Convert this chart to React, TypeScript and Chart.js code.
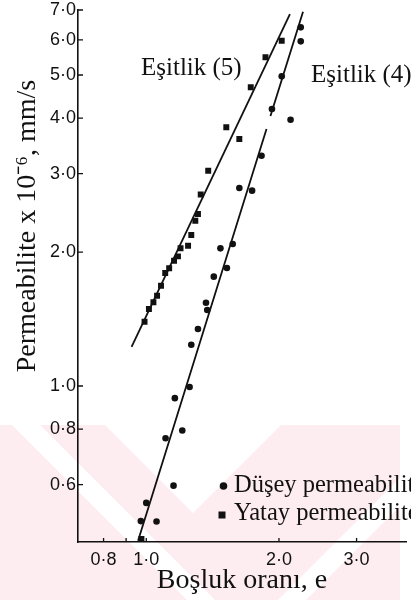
import React, { useEffect, useRef } from 'react';
import { Chart, registerables } from 'chart.js';

Chart.register(...registerables);

// Yatay permeabilite (squares)
const yatayE = [2.029, 1.864, 1.726, 1.519, 1.626, 1.382, 1.329, 1.310, 1.292, 1.265, 1.244, 1.196, 1.180, 1.156, 1.127, 1.104, 1.080, 1.058, 1.038, 1.014, 0.991, 0.975];
const yatayK = [5.970, 5.480, 4.691, 3.814, 3.590, 3.046, 2.694, 2.435, 2.352, 2.184, 2.067, 2.039, 1.956, 1.912, 1.839, 1.795, 1.680, 1.596, 1.542, 1.489, 1.395, 0.453];

// Düşey permeabilite (circles)
const duseyE = [2.241, 2.241, 2.029, 1.928, 2.125, 1.826, 1.626, 1.738, 1.571, 1.473, 1.524, 1.423, 1.366, 1.375, 1.310, 1.265, 1.254, 1.161, 1.207, 1.106, 1.153, 1.000, 0.972, 1.055];
const duseyK = [6.399, 5.951, 4.966, 4.194, 3.967, 3.293, 2.786, 2.748, 2.085, 2.039, 1.842, 1.761, 1.539, 1.482, 1.343, 1.238, 0.995, 0.939, 0.794, 0.763, 0.597, 0.546, 0.497, 0.496];

// Fitted lines
const esitlik5E = [0.926, 2.118];
const esitlik5K = [1.224, 6.855];
const esitlik4E: (number | null)[] = [0.958, 1.874, null, 1.913, 2.268];
const esitlik4K: (number | null)[] = [0.449, 3.781, null, 4.045, 6.937];

// Axes
const xMin = 0.71;
const xMax = 3.9;
const yMin = 0.446;
const yMax = 7.0;
const xTickValues = [0.8, 1.0, 2.0, 3.0];
const xMinorTickValues = [0.9];
const yTickValues = [0.6, 0.8, 1.0, 2.0, 3.0, 4.0, 5.0, 6.0, 7.0];

const xAxisTitle = 'Boşluk oranı, e';
const yAxisTitle = 'Permeabilite x 10⁻⁶, mm/s';
const legendLabels = ['Düşey permeabilite', 'Yatay permeabilite'];
const equationLabels = ['Eşitlik (5)', 'Eşitlik (4)'];

const INK = '#111111';
const SERIF = '"Liberation Serif", "Times New Roman", serif';
const SANS = '"Liberation Sans", Arial, sans-serif';

const toPoints = (xs: (number | null)[], ys: (number | null)[]) =>
  xs.map((x, i) => (x === null || ys[i] === null ? { x: NaN, y: NaN } : { x: x as number, y: ys[i] as number }));

const fmt = (v: number) => v.toFixed(1).replace('.', '·');

const watermarkPlugin = {
  id: 'watermark',
  beforeDraw(chart: any) {
    const ctx = chart.ctx;
    ctx.save();
    ctx.fillStyle = 'rgb(253,236,240)';
    ctx.fillRect(0, 425, 400, 175);
    ctx.fillStyle = '#ffffff';
    const poly = (pts: number[][]) => {
      ctx.beginPath();
      ctx.moveTo(pts[0][0], pts[0][1]);
      for (let i = 1; i < pts.length; i++) ctx.lineTo(pts[i][0], pts[i][1]);
      ctx.closePath();
      ctx.fill();
    };
    poly([[105, 425], [193, 513], [281, 425]]);
    poly([[12, 425], [40, 425], [215, 600], [187, 600]]);
    poly([[453, 425], [481, 425], [306, 600], [278, 600]]);
    ctx.restore();
  },
};

const decorPlugin = {
  id: 'decor',
  afterDraw(chart: any) {
    const ctx = chart.ctx;
    const xs = chart.scales.x;
    const ys = chart.scales.y;
    const area = chart.chartArea;
    ctx.save();
    // inward ticks
    ctx.strokeStyle = INK;
    ctx.lineWidth = 1.3;
    ctx.beginPath();
    yTickValues.forEach((v) => {
      const p = ys.getPixelForValue(v);
      ctx.moveTo(area.left, p);
      ctx.lineTo(area.left + 5, p);
    });
    [...xTickValues, ...xMinorTickValues].forEach((v) => {
      const p = xs.getPixelForValue(v);
      ctx.moveTo(p, area.bottom);
      ctx.lineTo(p, area.bottom - 4);
    });
    ctx.stroke();

    ctx.fillStyle = INK;
    // equation labels
    ctx.font = `25px ${SERIF}`;
    ctx.textAlign = 'left';
    ctx.textBaseline = 'alphabetic';
    ctx.fillText(equationLabels[0], 141, 75);
    ctx.fillText(equationLabels[1], 311, 82);

    // legend
    ctx.font = `24.5px ${SERIF}`;
    ctx.beginPath();
    ctx.arc(223.5, 486, 3.8, 0, Math.PI * 2);
    ctx.fill();
    ctx.fillRect(218.5, 511.5, 7, 7);
    ctx.fillText(legendLabels[0], 234, 492);
    ctx.fillText(legendLabels[1], 234, 520);

    // axis titles
    ctx.font = `28px ${SERIF}`;
    ctx.textAlign = 'center';
    ctx.fillText(xAxisTitle, 242, 588);
    ctx.save();
    ctx.translate(35, 226);
    ctx.rotate(-Math.PI / 2);
    ctx.fillText(yAxisTitle, 0, 0);
    ctx.restore();
    ctx.restore();
  },
};

export default function App() {
  const canvasRef = useRef<HTMLCanvasElement | null>(null);

  useEffect(() => {
    if (!canvasRef.current) return;
    const chart = new Chart(canvasRef.current, {
      type: 'scatter',
      data: {
        datasets: [
          {
            label: legendLabels[1],
            data: toPoints(yatayE, yatayK),
            pointStyle: 'rect',
            pointRadius: 4.2,
            pointBackgroundColor: INK,
            pointBorderColor: INK,
            pointBorderWidth: 0,
          },
          {
            label: legendLabels[0],
            data: toPoints(duseyE, duseyK),
            pointStyle: 'circle',
            pointRadius: 3.3,
            pointBackgroundColor: INK,
            pointBorderColor: INK,
            pointBorderWidth: 0,
          },
          {
            label: equationLabels[0],
            data: toPoints(esitlik5E, esitlik5K),
            showLine: true,
            pointRadius: 0,
            borderColor: INK,
            borderWidth: 1.8,
          },
          {
            label: equationLabels[1],
            data: toPoints(esitlik4E, esitlik4K),
            showLine: true,
            spanGaps: false,
            pointRadius: 0,
            borderColor: INK,
            borderWidth: 1.8,
          },
        ],
      },
      options: {
        animation: false,
        responsive: true,
        maintainAspectRatio: false,
        layout: { padding: { top: 10, left: 0, right: 0, bottom: 0 } },
        plugins: { legend: { display: false }, tooltip: { enabled: false }, title: { display: false } },
        scales: {
          x: {
            type: 'logarithmic',
            min: xMin,
            max: xMax,
            grid: { display: false, drawTicks: false },
            border: { display: true, color: INK, width: 1.6 },
            afterBuildTicks: (scale: any) => {
              scale.ticks = xTickValues.map((v) => ({ value: v }));
            },
            afterFit: (scale: any) => {
              scale.height = 58;
              scale.paddingLeft = 0;
              scale.paddingRight = 0;
            },
            ticks: {
              autoSkip: false,
              maxRotation: 0,
              padding: 7,
              color: INK,
              font: { family: SANS, size: 18 },
              callback: (v: any) => fmt(Number(v)),
            },
          },
          y: {
            type: 'logarithmic',
            min: yMin,
            max: yMax,
            grid: { display: false, drawTicks: false },
            border: { display: true, color: INK, width: 1.6 },
            afterBuildTicks: (scale: any) => {
              scale.ticks = yTickValues.map((v) => ({ value: v }));
            },
            afterFit: (scale: any) => {
              scale.width = 78;
              scale.paddingTop = 0;
              scale.paddingBottom = 0;
            },
            ticks: {
              autoSkip: false,
              padding: 2,
              color: INK,
              font: { family: SANS, size: 18 },
              callback: (v: any) => fmt(Number(v)),
            },
          },
        },
      },
      plugins: [watermarkPlugin, decorPlugin],
    } as any);
    return () => chart.destroy();
  }, []);

  return (
    <div style={{ position: 'absolute', left: 0, top: 0, width: 411, height: 600, background: '#fff' }}>
      <canvas ref={canvasRef} />
    </div>
  );
}
